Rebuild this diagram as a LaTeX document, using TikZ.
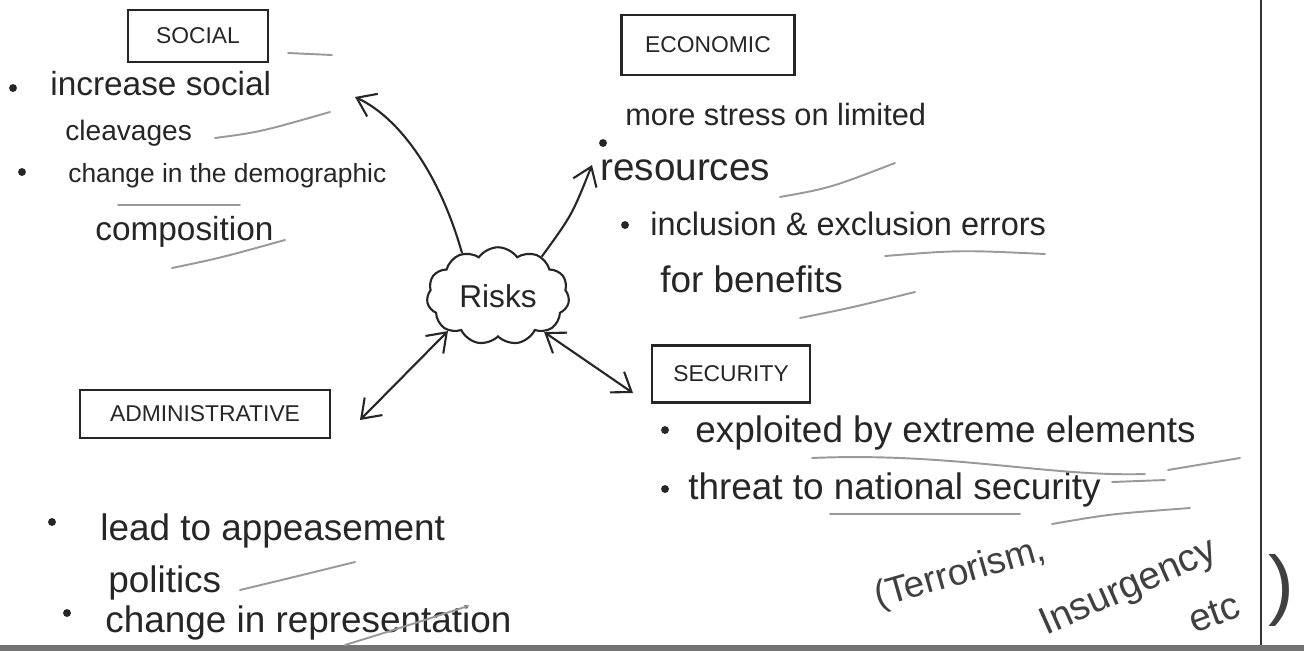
\documentclass[tikz,border=0pt]{standalone}
\usepackage{fontspec}
\setmainfont{Liberation Sans}
\usetikzlibrary{shapes.symbols,arrows.meta}
\begin{document}
\begin{tikzpicture}[x=0.02cm,y=-0.02cm,
  pencil/.style={draw=black!40, line width=1.1pt, line cap=round},
  box/.style={draw=black!85, line width=1.3pt, inner sep=0, font=\fontsize{13}{15}\selectfont, text=black!85},
  txt/.style={anchor=base west, inner sep=0, text=black!85, font=\fontsize{19}{22}\selectfont},
  big/.style={font=\fontsize{21}{24}\selectfont},
  small/.style={font=\fontsize{16}{19}\selectfont},
  note/.style={anchor=base west, inner sep=0, text=black!75, font=\fontsize{21}{24}\selectfont},
  dot/.style={circle, fill=black!85, inner sep=0, minimum size=4.5pt},
  arr/.style={line width=1.2pt, draw=black!85, -{Straight Barb[length=3.5mm,width=5mm]}},
  darr/.style={line width=1.2pt, draw=black!85, {Straight Barb[length=3.5mm,width=5mm]}-{Straight Barb[length=3.5mm,width=5mm]}}]
\fill[white] (0,0) rectangle (1304,650);
\useasboundingbox (0,0) rectangle (1304,650);
% frame lines
\draw[black!80, line width=1.6pt] (1261,0) -- (1261,650);
\draw[black!55, line width=3pt] (0,648) -- (1304,648);

% central cloud
\node[cloud, draw=black!85, line width=1.2pt, cloud puffs=11, cloud puff arc=110, aspect=1.45,
      minimum width=2.85cm, minimum height=1.95cm, inner sep=0, text=black!85,
      font=\fontsize{18}{21}\selectfont] (risks) at (498,296) {Risks};

% category boxes
\node[box, minimum width=2.8cm, minimum height=1.04cm] (social) at (198,36) {SOCIAL};
\node[box, minimum width=3.46cm, minimum height=1.2cm] (economic) at (708,45) {ECONOMIC};
\node[box, minimum width=5.0cm, minimum height=0.96cm] (admin) at (205,414) {ADMINISTRATIVE};
\node[box, minimum width=3.16cm, minimum height=1.14cm] (security) at (731,374) {SECURITY};

% arrow ends
\coordinate (socend) at (355,97);
\coordinate (ecoend) at (592,165);
\coordinate (admend) at (360,420);
\coordinate (secend) at (633,393);

\draw[arr] (risks.130) .. controls (440,175) and (400,118) .. (socend);
\draw[arr] (risks.42) .. controls (572,215) .. (ecoend);
\draw[darr] (risks.215) -- (admend);
\draw[darr] (risks.-38) -- (secend);

% SOCIAL points
\node[dot] (sd1) at (13,88) {};
\node[txt] (s1) at (50,95) {increase social};
\node[txt, small] (s2) at (65,140) {cleavages};
\node[dot] (sd2) at (22,172) {};
\node[txt, font=\fontsize{15}{18}\selectfont] (s3) at (68,182) {change in the demographic};
\node[txt] (s4) at (95,240) {composition};

% ECONOMIC points
\node[txt, font=\fontsize{17.5}{21}\selectfont] (e1) at (625,125) {more stress on limited};
\node[dot] (ed1) at (603,143) {};
\node[txt, font=\fontsize{22}{25}\selectfont] (e2) at (600,180) {resources};
\node[dot] (ed2) at (625,225) {};
\node[txt, font=\fontsize{18.5}{22}\selectfont] (e3) at (650,235) {inclusion \& exclusion errors};
\node[txt, big] (e4) at (660,292) {for benefits};

% SECURITY points
\node[dot] (scd1) at (665,430) {};
\node[txt, big] (sc1) at (695,442) {exploited by extreme elements};
\node[dot] (scd2) at (665,489) {};
\node[txt, big] (sc2) at (688,499) {threat to national security};
\node[note, rotate=16] (t1) at (878,608) {(Terrorism,};
\node[note, font=\fontsize{22}{24}\selectfont, rotate=24] (t2) at (1046,636) {Insurgency};
\node[note, font=\fontsize{22}{24}\selectfont, rotate=20] (t3) at (1194,634) {etc};
\node[anchor=center, inner sep=0, text=black!75, font=\fontsize{44}{46}\selectfont] (t4) at (1281,590) {)};

% ADMINISTRATIVE points
\node[dot] (ad1) at (52,522) {};
\node[txt, big] (a1) at (100,540) {lead to appeasement};
\node[txt, big] (a2) at (108,592) {politics};
\node[dot] (ad2) at (67,613) {};
\node[txt, big] (a3) at (105,632) {change in representation};

% pencil underlines
\draw[pencil] (288,53) -- (332,55);
\draw[pencil] (215,138) .. controls (260,132) .. (330,112);
\draw[pencil] (118,205) -- (240,205);
\draw[pencil] (172,268) .. controls (220,258) .. (285,240);
\draw[pencil] (780,197) .. controls (830,188) .. (895,163);
\draw[pencil] (885,256) .. controls (960,250) .. (1045,254);
\draw[pencil] (800,318) .. controls (850,308) .. (915,292);
\draw[pencil] (812,458) .. controls (950,452) and (1050,477) .. (1145,474);
\draw[pencil] (1168,470) -- (1240,458);
\draw[pencil] (830,514) -- (1020,514);
\draw[pencil] (1052,524) .. controls (1110,514) .. (1190,508);
\draw[pencil] (1112,482) -- (1165,480);
\draw[pencil] (240,590) .. controls (290,578) .. (355,562);
\draw[pencil] (345,645) .. controls (400,628) .. (468,606);
\end{tikzpicture}
\end{document}
